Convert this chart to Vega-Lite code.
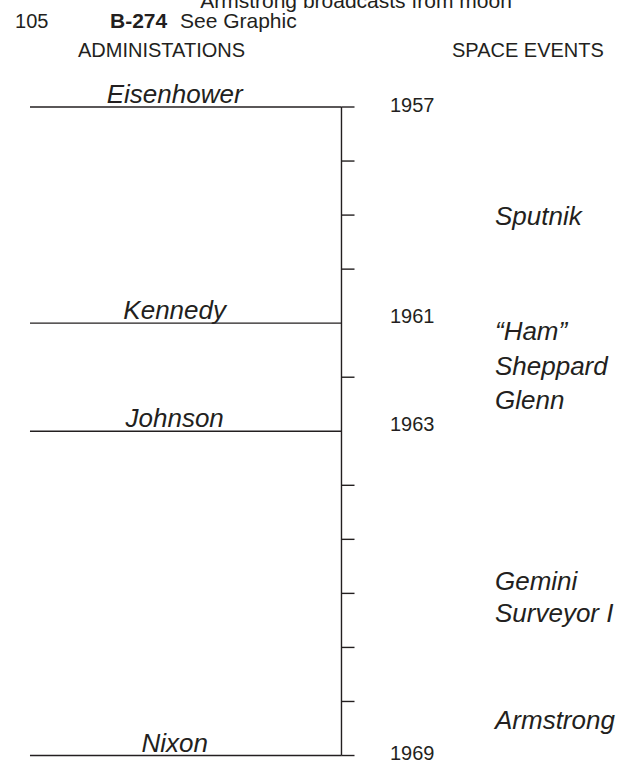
{
  "$schema": "https://vega.github.io/schema/vega-lite/v6.json",
  "width": 626,
  "height": 760,
  "autosize": "none",
  "padding": 0,
  "background": "white",
  "config": {"view": {"stroke": null}},
  "datasets": {
    "admins": [
      {"name": "Eisenhower", "year": 1957},
      {"name": "Kennedy", "year": 1961},
      {"name": "Johnson", "year": 1963},
      {"name": "Nixon", "year": 1969}
    ],
    "ticks": [
      {"year": 1957}, {"year": 1958}, {"year": 1959}, {"year": 1960},
      {"year": 1962}, {"year": 1964}, {"year": 1965}, {"year": 1966},
      {"year": 1967}, {"year": 1968}, {"year": 1969}
    ],
    "events": [
      {"event": "Sputnik", "year": 1959.18},
      {"event": "“Ham”", "year": 1961.31},
      {"event": "Sheppard", "year": 1961.96},
      {"event": "Glenn", "year": 1962.59},
      {"event": "Gemini", "year": 1965.94},
      {"event": "Surveyor I", "year": 1966.53},
      {"event": "Armstrong", "year": 1968.51}
    ]
  },
  "resolve": {"scale": {"x": "shared", "y": "shared"}},
  "layer": [
    {
      "data": {"name": "admins"},
      "mark": {"type": "rule", "color": "#231f20", "strokeWidth": 1.4},
      "encoding": {
        "x": {"datum": 4.79, "type": "quantitative", "scale": {"domain": [0, 100], "nice": false, "zero": false}, "axis": null},
        "x2": {"datum": 54.55},
        "y": {"field": "year", "type": "quantitative", "scale": {"domain": [1955.02, 1969.083], "reverse": true, "nice": false, "zero": false}, "axis": null}
      }
    },
    {
      "data": {"values": [{}]},
      "mark": {"type": "rule", "color": "#231f20", "strokeWidth": 1.4},
      "encoding": {
        "x": {"datum": 54.55, "type": "quantitative"},
        "y": {"datum": 1957, "type": "quantitative"},
        "y2": {"datum": 1969}
      }
    },
    {
      "data": {"name": "ticks"},
      "mark": {"type": "rule", "color": "#231f20", "strokeWidth": 1.4},
      "encoding": {
        "x": {"datum": 54.55, "type": "quantitative"},
        "x2": {"datum": 56.63},
        "y": {"field": "year", "type": "quantitative"}
      }
    },
    {
      "data": {"name": "admins"},
      "mark": {"type": "text", "font": "Liberation Sans", "fontSize": 26, "fontStyle": "italic", "align": "center", "baseline": "alphabetic", "dy": -4, "color": "#231f20"},
      "encoding": {
        "x": {"datum": 27.9, "type": "quantitative"},
        "y": {"field": "year", "type": "quantitative"},
        "text": {"field": "name", "type": "nominal"}
      }
    },
    {
      "data": {"name": "admins"},
      "transform": [{"filter": "datum.year == 1957 || datum.year == 1969"}],
      "mark": {"type": "text", "font": "Liberation Sans", "fontSize": 20, "align": "left", "baseline": "alphabetic", "dy": 4.5, "color": "#231f20"},
      "encoding": {
        "x": {"datum": 62.3, "type": "quantitative"},
        "y": {"field": "year", "type": "quantitative"},
        "text": {"field": "year", "type": "quantitative", "format": "d"}
      }
    },
    {
      "data": {"name": "admins"},
      "transform": [{"filter": "datum.year == 1961 || datum.year == 1963"}],
      "mark": {"type": "text", "font": "Liberation Sans", "fontSize": 20, "align": "left", "baseline": "alphabetic", "dy": 0, "color": "#231f20"},
      "encoding": {
        "x": {"datum": 62.3, "type": "quantitative"},
        "y": {"field": "year", "type": "quantitative"},
        "text": {"field": "year", "type": "quantitative", "format": "d"}
      }
    },
    {
      "data": {"name": "events"},
      "mark": {"type": "text", "font": "Liberation Sans", "fontSize": 26, "fontStyle": "italic", "align": "left", "baseline": "alphabetic", "color": "#231f20"},
      "encoding": {
        "x": {"datum": 79.07, "type": "quantitative"},
        "y": {"field": "year", "type": "quantitative"},
        "text": {"field": "event", "type": "nominal"}
      }
    },
    {
      "data": {"values": [{}]},
      "mark": {"type": "text", "text": "Armstrong broadcasts from moon", "font": "Liberation Sans", "fontSize": 21, "align": "center", "baseline": "alphabetic", "color": "#231f20"},
      "encoding": {
        "x": {"datum": 56.87, "type": "quantitative"},
        "y": {"datum": 1955.168, "type": "quantitative"}
      }
    },
    {
      "data": {"values": [{}]},
      "mark": {"type": "text", "text": "105", "font": "Liberation Sans", "fontSize": 20, "align": "left", "baseline": "alphabetic", "color": "#231f20"},
      "encoding": {
        "x": {"datum": 2.4, "type": "quantitative"},
        "y": {"datum": 1955.538, "type": "quantitative"}
      }
    },
    {
      "data": {"values": [{}]},
      "mark": {"type": "text", "text": "B-274", "font": "Liberation Sans", "fontSize": 21, "fontWeight": "bold", "align": "left", "baseline": "alphabetic", "color": "#231f20"},
      "encoding": {
        "x": {"datum": 17.57, "type": "quantitative"},
        "y": {"datum": 1955.538, "type": "quantitative"}
      }
    },
    {
      "data": {"values": [{}]},
      "mark": {"type": "text", "text": "See Graphic", "font": "Liberation Sans", "fontSize": 21, "align": "left", "baseline": "alphabetic", "color": "#231f20"},
      "encoding": {
        "x": {"datum": 28.75, "type": "quantitative"},
        "y": {"datum": 1955.538, "type": "quantitative"}
      }
    },
    {
      "data": {"values": [{}]},
      "mark": {"type": "text", "text": "ADMINISTATIONS", "font": "Liberation Sans", "fontSize": 20, "align": "left", "baseline": "alphabetic", "color": "#231f20"},
      "encoding": {
        "x": {"datum": 12.46, "type": "quantitative"},
        "y": {"datum": 1956.075, "type": "quantitative"}
      }
    },
    {
      "data": {"values": [{}]},
      "mark": {"type": "text", "text": "SPACE EVENTS", "font": "Liberation Sans", "fontSize": 20, "align": "left", "baseline": "alphabetic", "color": "#231f20"},
      "encoding": {
        "x": {"datum": 72.2, "type": "quantitative"},
        "y": {"datum": 1956.075, "type": "quantitative"}
      }
    }
  ]
}
